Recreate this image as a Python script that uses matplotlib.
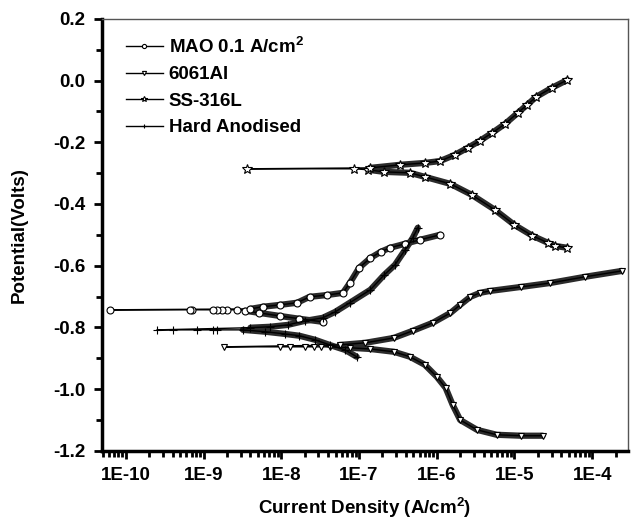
import numpy as np
import matplotlib
matplotlib.use("Agg")
import matplotlib.pyplot as plt
from matplotlib.ticker import FixedLocator, LogLocator, FuncFormatter, MultipleLocator

plt.rcParams["font.family"] = ["Liberation Sans", "DejaVu Sans"]
plt.rcParams["font.weight"] = "bold"
plt.rcParams["mathtext.fontset"] = "custom"
plt.rcParams["mathtext.rm"] = "Liberation Sans:bold"
plt.rcParams["mathtext.bf"] = "Liberation Sans:bold"

# MAO 0.1 A/cm2 (circles)
mao_cat_i = [3.4e-8, 1.7e-8, 9.6e-9, 5.2e-9, 3.4e-9]
mao_cat_e = [-0.782, -0.772, -0.763, -0.753, -0.746]
mao_cor_i = [2.7e-9, 2.0e-9, 1.7e-9, 1.5e-9, 1.3e-9, 7.1e-10, 6.6e-10, 6.2e-11]
mao_cor_e = -0.743
mao_ano_i = [4.0e-9, 5.8e-9, 9.6e-9, 1.6e-8, 2.3e-8, 3.9e-8, 6.2e-8, 7.6e-8,
             1.0e-7, 1.4e-7, 1.9e-7, 2.5e-7, 3.9e-7, 6.1e-7, 1.1e-6]
mao_ano_e = [-0.740, -0.733, -0.727, -0.720, -0.701, -0.695, -0.688, -0.656,
             -0.607, -0.575, -0.555, -0.542, -0.529, -0.516, -0.500]

# 6061Al (triangles)
al_cat_i = [2.3e-5, 1.2e-5, 5.9e-6, 3.3e-6, 2.0e-6, 1.6e-6, 1.3e-6, 1.0e-6,
            7.0e-7, 4.5e-7, 2.8e-7, 1.4e-7, 7.6e-8]
al_cat_e = [-1.151, -1.151, -1.148, -1.132, -1.100, -1.051, -0.996, -0.960,
            -0.921, -0.895, -0.879, -0.870, -0.866]
al_cor_i = [4.2e-8, 3.2e-8, 2.6e-8, 2.0e-8, 1.3e-8, 9.6e-9, 1.8e-9]
al_cor_e = -0.863
al_ano_i = [5.6e-8, 1.2e-7, 2.8e-7, 4.9e-7, 8.9e-7, 1.5e-6, 2.0e-6, 2.7e-6,
            3.6e-6, 4.8e-6, 1.2e-5, 2.9e-5, 8.1e-5, 2.4e-4]
al_ano_e = [-0.857, -0.850, -0.834, -0.811, -0.785, -0.753, -0.727, -0.701,
            -0.688, -0.682, -0.669, -0.656, -0.636, -0.617]

# SS-316L (stars)
ss_cat_i = [4.8e-5, 3.3e-5, 2.7e-5, 1.7e-5, 1.0e-5, 5.6e-6, 2.8e-6, 1.5e-6,
            7.0e-7, 4.5e-7, 2.1e-7, 1.3e-7]
ss_cat_e = [-0.542, -0.536, -0.526, -0.503, -0.468, -0.419, -0.370, -0.335,
            -0.312, -0.299, -0.296, -0.289]
ss_cor_i = [8.5e-8, 3.6e-9]
ss_cor_e = -0.286
ss_ano_i = [1.4e-7, 3.4e-7, 7.0e-7, 1.1e-6, 1.7e-6, 2.5e-6, 3.6e-6, 5.2e-6,
            7.6e-6, 1.1e-5, 1.45e-5, 1.9e-5, 3.0e-5, 4.8e-5]
ss_ano_e = [-0.283, -0.273, -0.267, -0.261, -0.241, -0.218, -0.195, -0.169,
            -0.140, -0.105, -0.079, -0.053, -0.024, 0.002]

# Hard Anodised (plus)
ha_cat_i = [9.3e-8, 6.6e-8, 4.2e-8, 2.7e-8, 1.7e-8, 1.1e-8, 6.2e-9, 3.2e-9]
ha_cat_e = [-0.895, -0.873, -0.857, -0.840, -0.827, -0.821, -0.814, -0.808]
ha_cor_i = [1.5e-9, 1.3e-9, 8.2e-10, 4.0e-10, 2.5e-10]
ha_cor_e = -0.808
ha_ano_i = [4.0e-9, 7.1e-9, 1.2e-8, 2.0e-8, 3.4e-8, 4.9e-8, 7.6e-8, 1.4e-7,
            2.1e-7, 2.9e-7, 3.9e-7, 4.9e-7, 5.7e-7]
ha_ano_e = [-0.801, -0.798, -0.792, -0.779, -0.769, -0.750, -0.720, -0.678,
            -0.630, -0.597, -0.549, -0.510, -0.477]

labels = [r"MAO 0.1 A/cm$^{2}$", "6061Al", "SS-316L", "Hard Anodised"]

fig = plt.figure(figsize=(6.33, 5.23), dpi=100)
ax = fig.add_axes([0.161, 0.138, 0.831, 0.826])


def draw_curve(cat_i, cat_e, cor_i, cor_e, ano_i, ano_e, marker, ms, label):
    xs = list(cat_i) + list(cor_i) + list(ano_i)
    ys = list(cat_e) + [cor_e] * len(cor_i) + list(ano_e)
    # dense parts of the scan show up as thick dark bands
    ax.plot(cat_i, cat_e, color="#2b2b2b", lw=4.5, solid_capstyle="round", zorder=2)
    ax.plot(ano_i, ano_e, color="#2b2b2b", lw=4.5, solid_capstyle="round", zorder=2)
    ax.plot(xs, ys, color="black", lw=1.0, marker=marker, ms=ms, mfc="white",
            mec="black", mew=0.8, label=label, zorder=3)


draw_curve(mao_cat_i, mao_cat_e, mao_cor_i, mao_cor_e, mao_ano_i, mao_ano_e, "o", 5, labels[0])
draw_curve(al_cat_i, al_cat_e, al_cor_i, al_cor_e, al_ano_i, al_ano_e, "v", 5, labels[1])
draw_curve(ss_cat_i, ss_cat_e, ss_cor_i, ss_cor_e, ss_ano_i, ss_ano_e, "*", 7, labels[2])
draw_curve(ha_cat_i, ha_cat_e, ha_cor_i, ha_cor_e, ha_ano_i, ha_ano_e, "+", 6, labels[3])

ax.set_xscale("log")
ax.set_xlim(10 ** -10.31, 10 ** -3.54)
ax.set_ylim(-1.2, 0.2)

ax.xaxis.set_major_locator(FixedLocator([1e-10, 1e-9, 1e-8, 1e-7, 1e-6, 1e-5, 1e-4]))
ax.xaxis.set_minor_locator(LogLocator(base=10, subs=np.arange(2, 10), numticks=20))
ax.xaxis.set_major_formatter(FuncFormatter(lambda v, p: "1E%d" % round(np.log10(v))))
ax.yaxis.set_major_locator(MultipleLocator(0.2))
ax.yaxis.set_minor_locator(MultipleLocator(0.1))
ax.yaxis.set_major_formatter(FuncFormatter(lambda v, p: "%.1f" % v))

ax.tick_params(which="both", direction="out", width=2, top=False, right=False,
               labelsize=13.5)
ax.tick_params(which="major", length=6, pad=6)
ax.tick_params(which="minor", length=4)

for side in ["left", "bottom"]:
    ax.spines[side].set_linewidth(2.5)
for side in ["top", "right"]:
    ax.spines[side].set_linewidth(1.0)
    ax.spines[side].set_color("#555555")

ax.set_xlabel(r"Current Density (A/cm$^{2}$)", fontsize=13.5, fontweight="bold", labelpad=8)
ax.set_ylabel("Potential(Volts)", fontsize=13.5, fontweight="bold", labelpad=18)

ax.legend(loc="upper left", bbox_to_anchor=(0.045, 0.96), frameon=False,
          fontsize=13.5, handlelength=2.0, handletextpad=0.3, labelspacing=0.5,
          borderpad=0, borderaxespad=0, numpoints=1, markerscale=0.6)

fig.savefig("out.png", dpi=100)
